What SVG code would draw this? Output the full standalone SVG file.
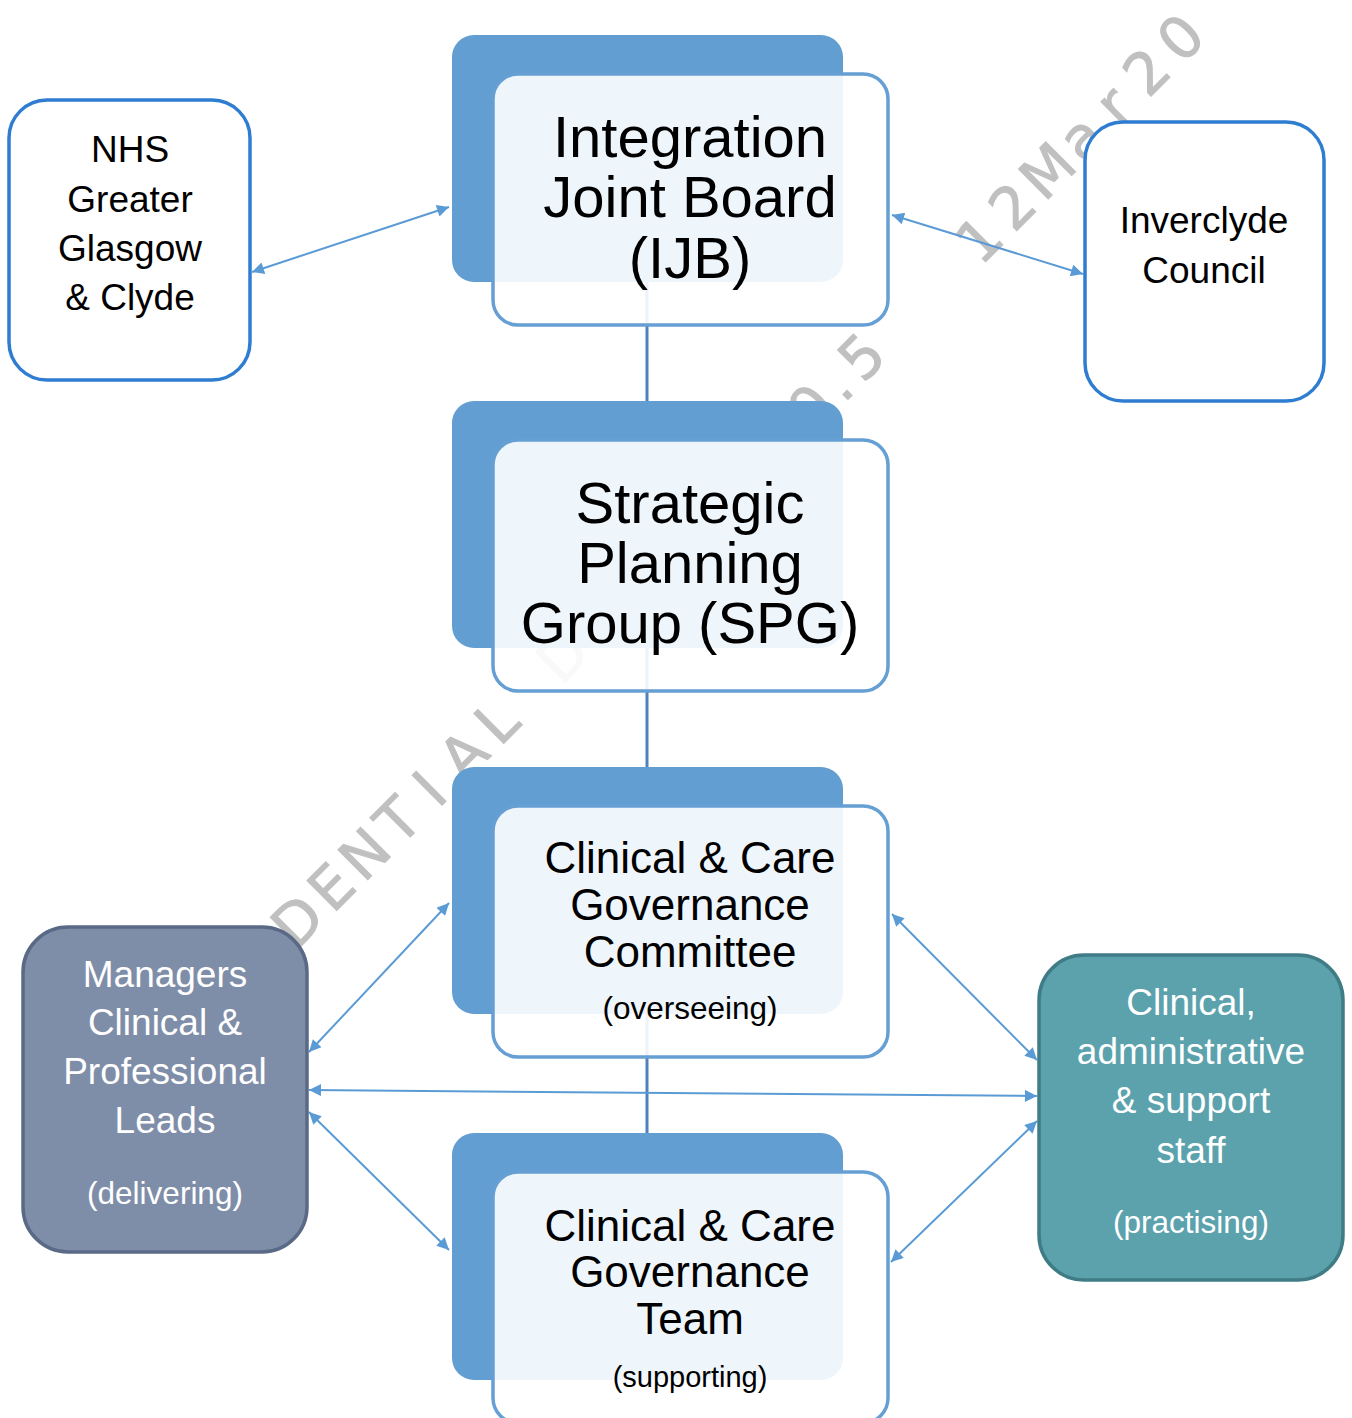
<svg xmlns="http://www.w3.org/2000/svg" width="1352" height="1418" viewBox="0 0 1352 1418">
<style>
.t{font-family:"Liberation Sans",Arial,sans-serif;text-anchor:middle;fill:#000}
.w{fill:#fff}
.back{fill:#629ED1}
.front{fill:#fff;fill-opacity:0.9;stroke:#659FD3;stroke-width:3.5}
.side{fill:#fff;stroke:#2E7DD1;stroke-width:3.5}
.arr{stroke:#5B9BD5;stroke-width:2;fill:none;marker-start:url(#ah);marker-end:url(#ah)}
.vl{stroke:#4F81BD;stroke-width:3;fill:none}
.wm{font-family:"DejaVu Sans",sans-serif;font-size:58px;fill:#C0C0C0;stroke:#C0C0C0;stroke-width:1;text-anchor:middle}
</style>
<defs>
<marker id="ah" viewBox="0 0 10 10" refX="10" refY="5" markerWidth="16" markerHeight="12" markerUnits="userSpaceOnUse" orient="auto-start-reverse">
<path d="M0,0 L10,5 L0,10 z" fill="#5B9BD5"/>
</marker>
</defs>
<rect width="1352" height="1418" fill="#fff"/>
<g id="watermark" transform="rotate(-45)">
<text class="wm" y="882" x="-681 -634 -586 -539 -491 -441 -393 -346 -299 -254 -206 -159 -111 -66 -16 31 79 126 174 221 285 320 357">CONFIDENTIAL DRAFT v0.5</text>
<text class="wm" y="882" x="523 570 620 667 713 760 808">12Mar20</text>
</g>
<g id="connectors">
<line class="vl" x1="647" y1="282" x2="647" y2="402"/>
<line class="vl" x1="647" y1="648" x2="647" y2="768"/>
<line class="vl" x1="647" y1="1014" x2="647" y2="1134"/>
<line class="arr" x1="252" y1="272" x2="449" y2="207"/>
<line class="arr" x1="892" y1="215" x2="1083" y2="274"/>
<line class="arr" x1="309" y1="1052" x2="449" y2="903"/>
<line class="arr" x1="309" y1="1090" x2="1037" y2="1096"/>
<line class="arr" x1="309" y1="1112" x2="449" y2="1250"/>
<line class="arr" x1="892" y1="914" x2="1037" y2="1060"/>
<line class="arr" x1="1037" y1="1121" x2="891" y2="1262"/>
</g>
<g id="nhs">
<rect class="side" x="9" y="100" width="241" height="280" rx="38"/>
<text class="t" font-size="37"><tspan x="130" y="162">NHS</tspan><tspan x="130" y="212">Greater</tspan><tspan x="130" y="261">Glasgow</tspan><tspan x="130" y="310">&amp; Clyde</tspan></text>
</g>
<g id="inverclyde">
<rect class="side" x="1085" y="122" width="239" height="279" rx="38"/>
<text class="t" font-size="37"><tspan x="1204" y="233">Inverclyde</tspan><tspan x="1204" y="283">Council</tspan></text>
</g>
<g id="ijb">
<rect class="back" x="452" y="35" width="391" height="247" rx="22"/>
<rect class="front" x="493" y="74" width="395" height="251" rx="25"/>
<text class="t" font-size="58"><tspan x="690" y="157">Integration</tspan><tspan x="690" y="217">Joint Board</tspan><tspan x="690" y="278">(IJB)</tspan></text>
</g>
<g id="spg">
<rect class="back" x="452" y="401" width="391" height="247" rx="22"/>
<rect class="front" x="493" y="440" width="395" height="251" rx="25"/>
<text class="t" font-size="58"><tspan x="690" y="523">Strategic</tspan><tspan x="690" y="583">Planning</tspan><tspan x="690" y="643">Group (SPG)</tspan></text>
</g>
<g id="ccgc">
<rect class="back" x="452" y="767" width="391" height="247" rx="22"/>
<rect class="front" x="493" y="806" width="395" height="251" rx="25"/>
<text class="t" font-size="44"><tspan x="690" y="873">Clinical &amp; Care</tspan><tspan x="690" y="920">Governance</tspan><tspan x="690" y="967">Committee</tspan></text>
<text class="t" font-size="31.5" x="690" y="1019">(overseeing)</text>
</g>
<g id="ccgt">
<rect class="back" x="452" y="1133" width="391" height="247" rx="22"/>
<rect class="front" x="493" y="1172" width="395" height="251" rx="25"/>
<text class="t" font-size="44"><tspan x="690" y="1241">Clinical &amp; Care</tspan><tspan x="690" y="1287">Governance</tspan><tspan x="690" y="1334">Team</tspan></text>
<text class="t" font-size="29" x="690" y="1387">(supporting)</text>
</g>
<g id="managers">
<rect x="23" y="927" width="284" height="325" rx="45" fill="#7F8EA8" stroke="#596986" stroke-width="3.5"/>
<text class="t w" font-size="37"><tspan x="165" y="987">Managers</tspan><tspan x="165" y="1035">Clinical &amp;</tspan><tspan x="165" y="1084">Professional</tspan><tspan x="165" y="1133">Leads</tspan></text>
<text class="t w" font-size="31.5" x="165" y="1204">(delivering)</text>
</g>
<g id="staff">
<rect x="1039" y="955" width="304" height="325" rx="45" fill="#5BA2AD" stroke="#3F7C86" stroke-width="3.5"/>
<text class="t w" font-size="37"><tspan x="1191" y="1015">Clinical,</tspan><tspan x="1191" y="1064">administrative</tspan><tspan x="1191" y="1113">&amp; support</tspan><tspan x="1191" y="1163">staff</tspan></text>
<text class="t w" font-size="31.5" x="1191" y="1233">(practising)</text>
</g>
</svg>
